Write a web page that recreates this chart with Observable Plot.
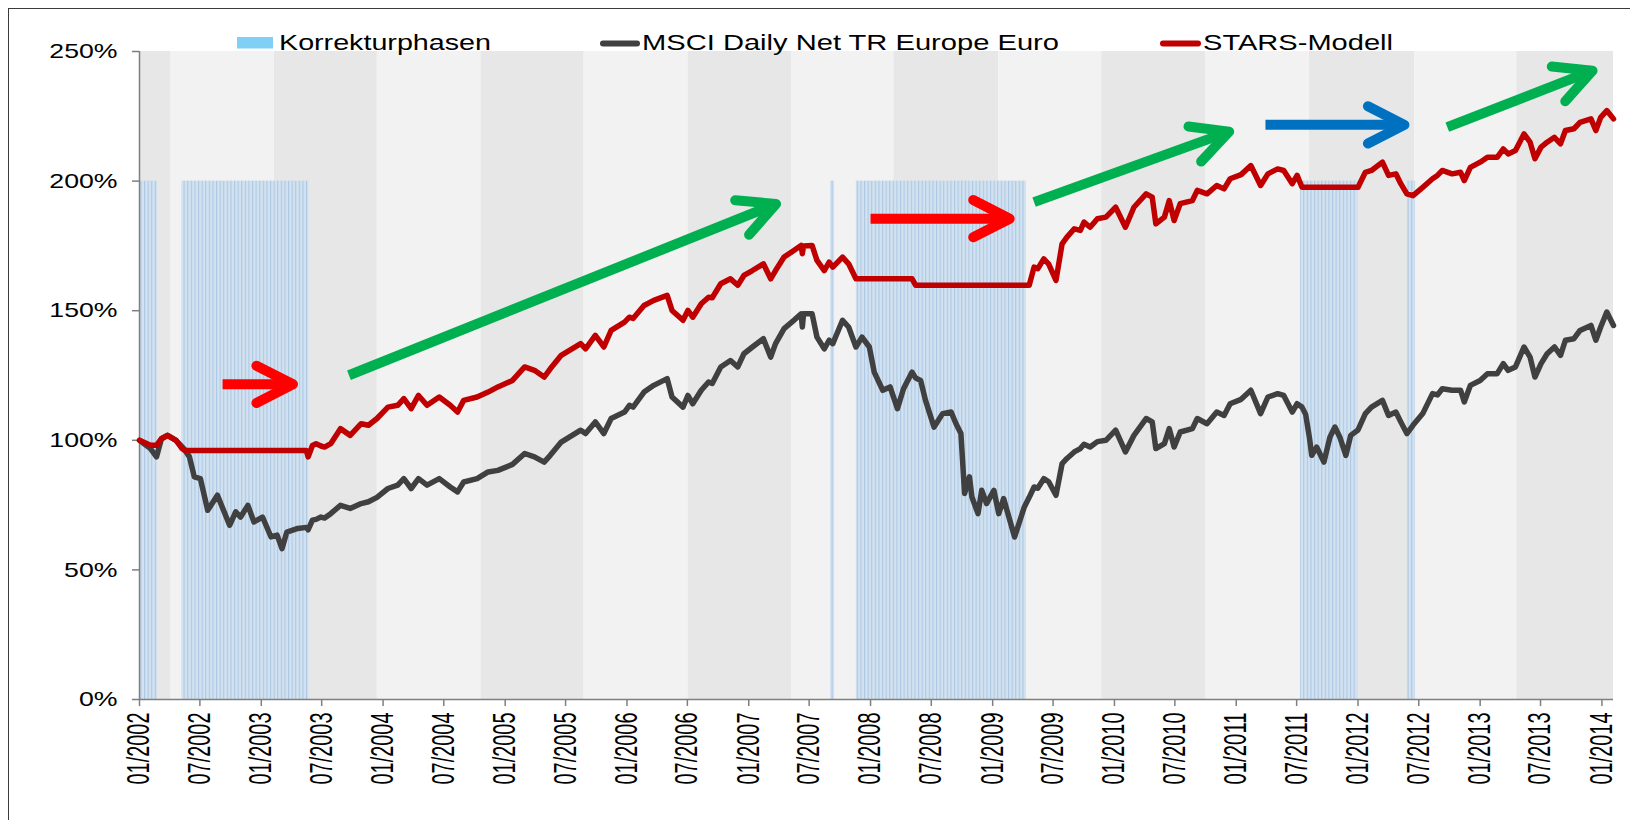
<!DOCTYPE html>
<html><head><meta charset="utf-8">
<script src="https://cdn.jsdelivr.net/npm/d3@7"></script>
<script src="https://cdn.jsdelivr.net/npm/@observablehq/plot@0.6"></script>
<style>
html,body{margin:0;padding:0;background:#fff;}
#wrap{position:relative;width:1630px;height:820px;overflow:hidden;}
#wrap svg{position:absolute;left:0;top:0;}
#frame{position:absolute;left:8px;top:8px;width:1700px;height:900px;border-left:1px solid #3a3a3a;border-top:1px solid #3a3a3a;pointer-events:none;}
</style></head><body>
<div id="wrap"><div id="frame"></div></div>
<script>
// ---------- data (decimal years / percent) ----------
const t = [2002.000,2002.090,2002.140,2002.180,2002.230,2002.300,2002.350,2002.370,2002.410,2002.450,2002.500,2002.560,2002.640,2002.740,2002.790,2002.830,2002.890,2002.940,2003.010,2003.080,2003.130,2003.170,2003.210,2003.300,2003.370,2003.385,2003.420,2003.450,2003.490,2003.520,2003.570,2003.650,2003.730,2003.820,2003.880,2003.950,2004.040,2004.120,2004.170,2004.230,2004.290,2004.360,2004.460,2004.550,2004.610,2004.660,2004.770,2004.860,2004.940,2005.060,2005.160,2005.240,2005.320,2005.370,2005.460,2005.620,2005.660,2005.740,2005.810,2005.870,2005.980,2006.020,2006.050,2006.140,2006.220,2006.330,2006.370,2006.460,2006.500,2006.540,2006.610,2006.670,2006.700,2006.770,2006.850,2006.910,2006.960,2007.030,2007.120,2007.180,2007.220,2007.290,2007.370,2007.430,2007.440,2007.450,2007.520,2007.560,2007.620,2007.660,2007.690,2007.770,2007.820,2007.880,2007.930,2007.990,2008.030,2008.100,2008.160,2008.220,2008.270,2008.340,2008.370,2008.410,2008.450,2008.520,2008.590,2008.660,2008.700,2008.740,2008.770,2008.810,2008.830,2008.880,2008.910,2008.950,2009.010,2009.050,2009.090,2009.180,2009.260,2009.300,2009.340,2009.370,2009.420,2009.460,2009.520,2009.570,2009.610,2009.670,2009.720,2009.750,2009.800,2009.860,2009.930,2010.010,2010.090,2010.160,2010.260,2010.310,2010.340,2010.410,2010.450,2010.490,2010.540,2010.640,2010.680,2010.760,2010.840,2010.900,2010.950,2011.040,2011.120,2011.200,2011.260,2011.340,2011.390,2011.460,2011.500,2011.540,2011.570,2011.600,2011.620,2011.660,2011.720,2011.770,2011.810,2011.850,2011.900,2011.940,2012.000,2012.060,2012.110,2012.200,2012.250,2012.310,2012.350,2012.400,2012.450,2012.530,2012.610,2012.650,2012.690,2012.770,2012.840,2012.870,2012.920,2013.000,2013.060,2013.140,2013.190,2013.230,2013.290,2013.360,2013.410,2013.450,2013.500,2013.550,2013.610,2013.660,2013.700,2013.770,2013.820,2013.910,2013.950,2013.990,2014.040,2014.095];
const msci = [100.0,96.8,93.6,100.6,101.9,100.0,97.5,96.4,93.6,85.9,85.2,73.0,78.8,67.2,72.4,70.4,74.9,68.5,70.4,62.7,63.4,58.2,64.6,66.0,66.4,65.5,69.2,69.5,70.4,70.0,71.7,74.9,73.7,75.6,76.3,78.0,81.4,82.7,85.2,81.4,85.2,82.7,85.2,82.0,80.1,83.9,85.2,87.8,88.4,90.7,94.9,93.6,91.6,94.2,99.3,103.9,102.6,107.1,102.6,108.4,110.9,113.5,112.8,118.6,121.2,123.8,116.7,112.8,117.3,114.1,119.3,122.5,121.9,128.3,130.8,128.3,133.4,136.0,139.2,132.1,137.3,143.1,146.3,148.8,143.7,148.8,148.8,139.8,135.3,138.6,137.3,146.3,143.7,136.0,139.8,136.0,126.3,119.3,120.6,112.2,119.9,126.3,124.0,123.1,115.4,105.1,110.3,110.9,106.4,102.6,79.5,85.9,78.1,71.7,80.7,75.6,80.7,71.7,77.5,62.7,74.3,78.0,82.0,81.5,85.2,84.0,78.8,91.0,93.0,95.5,96.8,98.5,97.4,99.5,100.0,103.9,95.5,101.9,108.4,107.1,96.8,98.7,104.5,97.4,103.2,104.5,108.4,106.4,110.9,109.6,114.1,115.8,119.3,110.3,116.7,118.0,117.3,110.9,114.1,112.8,110.0,101.3,94.2,97.4,91.6,101.3,105.1,101.3,94.2,101.9,104.0,110.3,112.8,115.4,109.6,110.9,107.1,102.6,105.8,110.3,118.0,117.5,119.9,119.3,119.3,114.8,121.2,123.1,125.7,125.7,129.6,127.0,128.3,136.0,132.1,124.4,129.6,133.4,136.0,132.8,138.6,139.2,142.4,144.3,138.6,143.7,149.5,144.3];
const stars = [100.0,98.1,98.1,100.6,101.9,100.0,96.8,96.1,96.1,96.1,96.1,96.1,96.1,96.1,96.1,96.1,96.1,96.1,96.1,96.1,96.1,96.1,96.1,96.1,96.1,93.6,98.0,98.7,97.8,97.4,98.7,104.5,101.9,106.4,105.8,108.4,112.8,113.5,116.1,112.2,117.3,113.5,116.7,113.5,110.9,115.4,116.7,118.6,120.6,123.1,128.3,127.0,124.4,127.6,132.8,137.3,135.3,140.5,136.0,142.4,145.6,147.5,147.0,152.0,154.0,155.9,150.1,146.3,150.1,147.5,152.7,155.2,155.0,160.4,162.3,159.8,163.6,165.5,168.1,162.3,165.5,170.7,173.2,175.2,172.0,175.0,175.2,169.4,165.5,168.7,166.8,170.7,168.1,162.3,162.3,162.3,162.3,162.3,162.3,162.3,162.3,162.3,159.8,159.8,159.8,159.8,159.8,159.8,159.8,159.8,159.8,159.8,159.8,159.8,159.8,159.8,159.8,159.8,159.8,159.8,159.8,159.8,166.8,166.2,170.0,168.0,161.7,175.8,178.4,181.6,181.0,184.2,182.2,185.5,186.1,189.9,182.2,189.9,195.1,193.8,183.5,186.1,192.5,184.8,191.3,192.5,196.4,195.1,198.3,197.0,200.9,202.5,206.0,198.3,202.8,204.7,204.1,199.0,202.2,197.6,197.6,197.6,197.6,197.6,197.6,197.6,197.6,197.6,197.6,197.6,197.6,203.4,204.1,207.3,202.2,202.8,199.0,195.1,194.4,197.6,200.9,202.2,204.1,202.8,203.4,200.2,205.3,207.3,209.2,209.2,212.4,210.5,211.8,218.2,215.0,208.6,213.1,215.0,216.9,214.4,219.5,220.2,222.7,224.0,219.5,224.6,227.2,224.0];

// correction phases ("Korrekturphasen")
const corrStart = [2002.005, 2002.348, 2007.672, 2007.883, 2011.527, 2012.403];
const corrEnd   = [2002.148, 2003.392, 2007.705, 2009.277, 2011.998, 2012.471];
const corrTop = 200;

// alternating background columns
const bandEdges = [2002.0, 2002.26, 2003.105, 2003.953, 2004.80, 2005.648, 2006.50, 2007.352, 2008.19, 2009.05, 2009.895, 2010.748, 2011.60, 2012.465, 2013.30, 2014.095];

// annotation arrows
const arrowX1 = [2002.682, 2003.720, 2008.000, 2009.340, 2011.240, 2012.731];
const arrowY1 = [121.6, 125.1, 185.5, 191.9, 221.7, 220.8];
const arrowX2 = [2003.260, 2007.224, 2009.140, 2010.942, 2012.380, 2013.923];
const arrowY2 = [121.6, 191.2, 185.5, 219.1, 221.7, 242.6];
const arrowKind = ["red", "green", "red", "green", "blue", "green"];

const yTicks = [0, 50, 100, 150, 200, 250];
const xTickStart = "2002-01-01", xTickEnd = "2014-01-01";
const legendLabels = ["Korrekturphasen", "MSCI Daily Net TR Europe Euro", "STARS-Modell"];

// ---------- helpers ----------
function dec(v) {
  const yr = Math.floor(v + 1e-9);
  const a = Date.UTC(yr, 0, 1), b = Date.UTC(yr + 1, 0, 1);
  return new Date(a + (v - yr) * (b - a));
}
const W = 1630, H = 820, ML = 139, MR = 17, MT = 51, MB = 121;
const xDomain = [dec(2002.0), dec(2014.095)];
const yDomain = [0, 250];
const arrowColors = {red: "#ff0000", green: "#00b050", blue: "#0070c0"};
const FONT = "'Liberation Sans', Arial, sans-serif";

const rows = t.map((v, i) => ({date: dec(v), msci: msci[i], stars: stars[i]}));
const bands = bandEdges.slice(0, -1).map((v, i) => ({x1: dec(v), x2: dec(bandEdges[i + 1]), i}));
const corr = corrStart.map((v, i) => ({x1: dec(v), x2: dec(corrEnd[i])}));
const arrows = arrowX1.map((v, i) => ({x1: dec(v), y1: arrowY1[i], x2: dec(arrowX2[i]), y2: arrowY2[i], color: arrowColors[arrowKind[i]]}));
const xTicks = d3.utcMonth.every(6).range(new Date(xTickStart), d3.utcDay.offset(new Date(xTickEnd), 1));

const xs = Plot.scale({x: {type: "utc", domain: xDomain, range: [ML, W - MR]}});
const ys = Plot.scale({y: {type: "linear", domain: yDomain, range: [H - MB, MT]}});

function chevron(angle) {
  const half = 27 * Math.PI / 180;
  return {draw(ctx, size) {
    const L = Math.sqrt(size / Math.PI);
    const a1 = angle + Math.PI - half, a2 = angle + Math.PI + half;
    ctx.moveTo(L * Math.cos(a1), L * Math.sin(a1));
    ctx.lineTo(0, 0);
    ctx.lineTo(L * Math.cos(a2), L * Math.sin(a2));
  }};
}
const headMarks = arrows.map(a => {
  const ang = Math.atan2(ys.apply(a.y2) - ys.apply(a.y1), xs.apply(a.x2) - xs.apply(a.x1));
  return Plot.dot([a], {x: "x2", y: "y2", r: 41, symbol: chevron(ang), fill: "none", stroke: a.color, strokeWidth: 10, strokeLinecap: "round", strokeLinejoin: "round"});
});

const plot = Plot.plot({
  width: W, height: H,
  marginLeft: ML, marginRight: MR, marginTop: MT, marginBottom: MB,
  style: {fontFamily: FONT, background: "transparent", color: "#000", overflow: "visible"},
  x: {type: "utc", domain: xDomain},
  y: {domain: yDomain},
  marks: [
    Plot.rect(bands.filter(b => b.i % 2 === 0), {x1: "x1", x2: "x2", y1: 0, y2: 250, fill: "#e7e7e7"}),
    Plot.rect(bands.filter(b => b.i % 2 === 1), {x1: "x1", x2: "x2", y1: 0, y2: 250, fill: "#f2f2f2"}),
    Plot.rect(corr, {x1: "x1", x2: "x2", y1: 0, y2: corrTop, fill: "url(#kpStripes)"}),
    Plot.ruleY([0], {stroke: "#7f7f7f", strokeWidth: 1.5}),
    Plot.ruleX([xDomain[0]], {y1: 0, y2: 250, stroke: "#7f7f7f", strokeWidth: 1.5}),
    Plot.axisY({ticks: yTicks, tickFormat: d => d + "%", tickSize: 7, tickPadding: 15, fontSize: 21, stroke: "#7f7f7f", strokeWidth: 1.5, fill: "#000", label: null}),
    Plot.axisX({ticks: xTicks, tickFormat: d3.utcFormat("%m/%Y"), tickRotate: -90, tickSize: 7, tickPadding: 6, fontSize: 31, stroke: "#7f7f7f", strokeWidth: 1.5, fill: "#000", label: null}),
    Plot.line(rows, {x: "date", y: "msci", stroke: "#404040", strokeWidth: 5.5, strokeLinejoin: "round", strokeLinecap: "round"}),
    Plot.line(rows, {x: "date", y: "stars", stroke: "#c00000", strokeWidth: 5.5, strokeLinejoin: "round", strokeLinecap: "round"}),
    Plot.link(arrows, {x1: "x1", y1: "y1", x2: "x2", y2: "y2", stroke: "color", strokeWidth: 10, strokeLinecap: "butt"}),
    ...headMarks
  ]
});

document.getElementById("wrap").insertBefore(plot, document.getElementById("frame"));
const svg = d3.select(plot);

svg.insert("defs", ":first-child").html(
  '<pattern id="kpStripes" patternUnits="userSpaceOnUse" width="3.6" height="20">' +
  '<rect width="3.6" height="20" fill="#d2e2f0"/><rect x="0" width="1.1" height="20" fill="#adc8e3"/></pattern>');

// stretched tick labels (the source picture is widened horizontally)
svg.selectAll('g[aria-label="y-axis tick label"] text').each(function() {
  const len = this.getComputedTextLength();
  this.setAttribute("textLength", (len * 1.27).toFixed(1));
  this.setAttribute("lengthAdjust", "spacingAndGlyphs");
});
svg.selectAll('g[aria-label="x-axis tick label"] text').each(function() {
  this.setAttribute("textLength", "72");
  this.setAttribute("lengthAdjust", "spacingAndGlyphs");
});

// legend
const lg = svg.append("g").attr("font-family", FONT).attr("font-size", 22).attr("fill", "#000").attr("text-anchor", "start");
lg.append("rect").attr("x", 237).attr("y", 37).attr("width", 36).attr("height", 11.5).attr("fill", "#7fd0f4");
lg.append("text").attr("x", 279).attr("y", 50).attr("text-anchor", "start").attr("textLength", 212).attr("lengthAdjust", "spacingAndGlyphs").text(legendLabels[0]);
lg.append("line").attr("x1", 603).attr("x2", 637).attr("y1", 43.5).attr("y2", 43.5).attr("stroke", "#404040").attr("stroke-width", 6).attr("stroke-linecap", "round");
lg.append("text").attr("x", 642).attr("y", 50).attr("text-anchor", "start").attr("textLength", 417).attr("lengthAdjust", "spacingAndGlyphs").text(legendLabels[1]);
lg.append("line").attr("x1", 1163).attr("x2", 1198).attr("y1", 43.5).attr("y2", 43.5).attr("stroke", "#c00000").attr("stroke-width", 6).attr("stroke-linecap", "round");
lg.append("text").attr("x", 1203).attr("y", 50).attr("text-anchor", "start").attr("textLength", 190).attr("lengthAdjust", "spacingAndGlyphs").text(legendLabels[2]);
</script>
</body></html>
